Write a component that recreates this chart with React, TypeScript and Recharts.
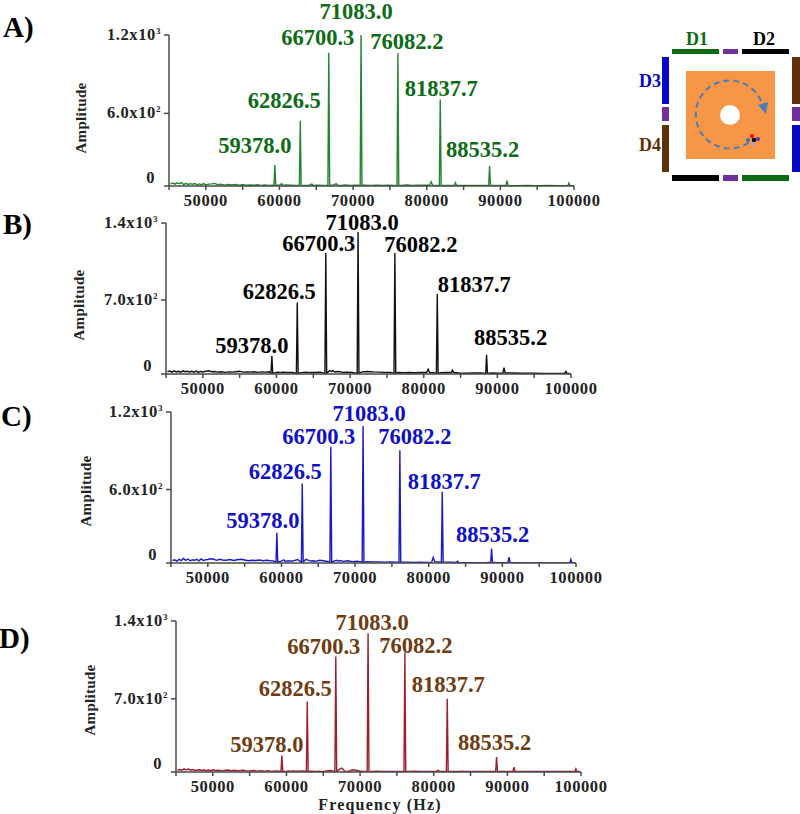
import React from 'react';
import { LineChart, Line, XAxis, YAxis } from 'recharts';

const SERIF = '"Liberation Serif", serif';
const AXIS_COLOR = '#4a4a4a';

const peakFreqs = [59378.0, 62826.5, 66700.3, 71083.0, 76082.2, 81837.7, 88535.2];
const peakLabels = ['59378.0', '62826.5', '66700.3', '71083.0', '76082.2', '81837.7', '88535.2'];

const peaksA = [204, 544, 1065, 1200, 1060, 707, 197];
const peaksB = [193, 676, 1128, 1319, 1128, 754, 202];
const peaksC = [265, 646, 930, 1092, 904, 582, 142];
const peaksD = [189, 676, 1080, 1289, 1117, 700, 176];

const noiseFreqs = [
  45200, 45500, 45800, 46100, 46400, 46700, 47000, 47300, 47600, 47900,
  48200, 48500, 48800, 49100, 49400, 49700, 50000, 50400, 50800, 51200,
  51600, 52000, 52500, 53000, 53500, 54000, 54500, 55000, 55500, 56000,
  56500, 57000, 57500, 58000, 58500, 59000, 60000, 60300, 60500, 60800,
  61500, 62200, 63300, 64000, 64400, 64600, 65200, 65900, 67200, 67500,
  67700, 67900, 68400, 69000, 69600, 70300, 71600, 72400, 73200, 74000,
  74800, 75500, 76500, 77300, 78000, 78800, 79600, 80400, 80600, 80800,
  81300, 82300, 83000, 83750, 83900, 84050, 84800, 85800, 86800, 87800,
  89200, 90000, 90750, 90900, 91050, 92000, 93500, 95000, 96500, 98000,
  99150, 99300, 99450, 99700, 99850, 100000,
];

const noiseA = [
  60, 66, 58, 68, 62, 70, 55, 64, 56, 62,
  58, 63, 52, 60, 54, 62, 52, 58, 60, 64,
  54, 58, 50, 56, 52, 55, 50, 54, 50, 52,
  50, 54, 49, 52, 48, 50, 50, 62, 48, 52,
  50, 48, 48, 50, 58, 48, 50, 49, 50, 54,
  62, 50, 48, 52, 48, 50, 50, 48, 50, 48,
  50, 48, 48, 52, 48, 50, 50, 50, 76, 50,
  48, 48, 48, 48, 70, 48, 48, 48, 48, 48,
  48, 48, 48, 84, 48, 46, 48, 46, 48, 46,
  46, 66, 46, 46, 44, 44,
];
const noiseB = [
  48, 54, 44, 56, 46, 52, 44, 56, 48, 52,
  46, 52, 44, 54, 42, 50, 46, 52, 56, 48,
  50, 44, 48, 42, 46, 44, 48, 52, 44, 46,
  44, 48, 42, 46, 44, 48, 42, 44, 40, 44,
  42, 40, 40, 44, 40, 42, 40, 44, 56, 50,
  58, 46, 50, 42, 44, 40, 46, 50, 46, 44,
  42, 40, 40, 38, 40, 38, 40, 40, 70, 40,
  38, 38, 40, 40, 62, 40, 36, 34, 36, 36,
  36, 34, 36, 84, 36, 36, 34, 34, 32, 32,
  32, 50, 32, 32, 29, 27,
];
const noiseC = [
  50, 56, 46, 60, 50, 66, 52, 62, 48, 56,
  52, 60, 48, 62, 50, 56, 58, 64, 60, 52,
  60, 54, 52, 58, 50, 56, 60, 54, 48, 52,
  50, 54, 48, 52, 48, 46, 46, 56, 44, 46,
  46, 58, 60, 46, 48, 44, 52, 46, 48, 52,
  46, 50, 44, 48, 42, 44, 42, 40, 40, 38,
  40, 38, 38, 38, 36, 38, 36, 38, 74, 42,
  40, 38, 38, 36, 44, 36, 34, 34, 34, 34,
  34, 34, 34, 76, 36, 34, 32, 32, 32, 32,
  32, 58, 34, 32, 31, 31,
];
const noiseD = [
  60, 64, 58, 70, 62, 68, 58, 64, 56, 60,
  62, 56, 62, 54, 60, 54, 62, 56, 58, 52,
  56, 60, 54, 58, 52, 58, 54, 52, 56, 50,
  54, 50, 54, 48, 52, 50, 48, 52, 48, 52,
  50, 52, 50, 48, 50, 48, 50, 56, 66, 78,
  66, 50, 48, 62, 56, 48, 48, 50, 48, 48,
  48, 46, 46, 50, 46, 48, 48, 48, 58, 46,
  46, 46, 48, 46, 50, 46, 46, 46, 46, 46,
  46, 46, 46, 86, 48, 46, 46, 46, 46, 46,
  46, 70, 46, 46, 42, 42,
];

const xTicks = [45000, 50000, 55000, 60000, 65000, 70000, 75000, 80000, 85000, 90000, 95000, 100000];

// the drawn baseline sits a little above true zero, it is labelled 0 anyway
const floorA = 44;
const floorB = 27;
const floorC = 31;
const floorD = 42;

// label offset from each peak tip, px: [dx, dy]
const offsetsA = [[-20, -12], [-16, -13], [-11, -8], [-5, -16], [9, -4], [1, -3], [-7, -9]];
const offsetsB = [[-20, -3], [-18, -4], [-7, -2], [4, -2], [26, -1], [37, -2], [24, -10]];
const offsetsC = [[-14, -5], [-17, -5], [-12, -3], [6, -5], [15, -6], [2, -3], [1, -7]];
const offsetsD = [[-15, -4], [-12, -6], [-12, -3], [4, -3], [11, 1], [1, -7], [-2, -7]];

function buildRows(peaks: number[], noise: number[], floor: number) {
  const rows = noiseFreqs.map((f, i) => ({ f, amp: noise[i], peak: -1 }));
  peakFreqs.forEach((f, i) => {
    rows.push({ f: f - 120, amp: floor + 6, peak: -1 });
    rows.push({ f, amp: peaks[i], peak: i });
    rows.push({ f: f + 120, amp: floor + 6, peak: -1 });
  });
  return rows.sort((a, b) => a.f - b.f);
}

const panels = [
  {
    id: 'A', left: 169, right: 574, top: 35, bottom: 186, min: floorA, max: 1200,
    rows: buildRows(peaksA, noiseA, floorA), offsets: offsetsA,
    line: '#23862f', text: '#0d6b16',
    yTicks: [floorA, 600, 1200], yLabels: [['0', ''], ['6.0x10', '2'], ['1.2x10', '3']],
  },
  {
    id: 'B', left: 166, right: 571, top: 223, bottom: 374, min: floorB, max: 1400,
    rows: buildRows(peaksB, noiseB, floorB), offsets: offsetsB,
    line: '#111111', text: '#000000',
    yTicks: [floorB, 700, 1400], yLabels: [['0', ''], ['7.0x10', '2'], ['1.4x10', '3']],
  },
  {
    id: 'C', left: 171, right: 576, top: 412, bottom: 563, min: floorC, max: 1200,
    rows: buildRows(peaksC, noiseC, floorC), offsets: offsetsC,
    line: '#1a1ac4', text: '#0f10c8',
    yTicks: [floorC, 600, 1200], yLabels: [['0', ''], ['6.0x10', '2'], ['1.2x10', '3']],
  },
  {
    id: 'D', left: 176, right: 581, top: 621, bottom: 772, min: floorD, max: 1400,
    rows: buildRows(peaksD, noiseD, floorD), offsets: offsetsD,
    line: '#9c1f2b', text: '#6e3c10',
    yTicks: [floorD, 700, 1400], yLabels: [['0', ''], ['7.0x10', '2'], ['1.4x10', '3']],
  },
];

function XTick({ x, y, payload }: any) {
  if (payload.value % 10000 !== 0) return null;
  return (
    <text x={x} y={y + 14} textAnchor="middle" fontFamily={SERIF} fontWeight="bold" fontSize={16.5} letterSpacing={0.6} fill="#222">
      {payload.value}
    </text>
  );
}

function YTick({ x, y, index, labels }: any) {
  const [base, sup] = labels[index];
  // the 0 label floats above the axis in the original
  const isZero = index === 0;
  return (
    <text x={isZero ? x - 7 : x - 1} y={isZero ? y - 3 : y + 5} textAnchor="end" fontFamily={SERIF} fontWeight="bold" fontSize={16.5} letterSpacing={0.6} fill="#222">
      {base}
      {sup ? <tspan dy={-6} fontSize={9}>{sup}</tspan> : null}
    </text>
  );
}

function Panel({ p }: { p: (typeof panels)[number] }) {
  const renderPeakLabel = (props: any) => {
    const row = p.rows[props.index];
    if (!row || row.peak < 0) return null;
    const [dx, dy] = p.offsets[row.peak];
    return (
      <text key={row.peak} x={props.x + dx} y={props.y + dy} textAnchor="middle" fontFamily={SERIF} fontWeight="bold" fontSize={22.5} fill={p.text}>
        {peakLabels[row.peak]}
      </text>
    );
  };

  return (
    <div style={{ position: 'absolute', left: 0, top: 0 }}>
      <LineChart
        width={800}
        height={814}
        data={p.rows}
        margin={{ top: p.top, left: p.left - 60, right: 800 - p.right, bottom: 814 - p.bottom - 30 }}
      >
        <XAxis
          dataKey="f"
          type="number"
          domain={[45000, 100000]}
          ticks={xTicks}
          interval={0}
          height={30}
          tick={<XTick />}
          tickSize={4}
          stroke={AXIS_COLOR}
          strokeWidth={1.5}
          allowDataOverflow
        />
        <YAxis
          type="number"
          domain={[p.min, p.max]}
          ticks={p.yTicks}
          interval={0}
          width={60}
          tick={<YTick labels={p.yLabels} />}
          tickSize={5}
          stroke={AXIS_COLOR}
          strokeWidth={1.5}
          allowDataOverflow
        />
        <Line
          dataKey="amp"
          type="linear"
          stroke={p.line}
          strokeWidth={1.4}
          dot={false}
          isAnimationActive={false}
          label={renderPeakLabel}
        />
      </LineChart>
    </div>
  );
}

const GREEN = '#0a6b12';
const BLACK = '#000000';
const PURPLE = '#7030a0';
const BROWN = '#5e3208';
const BLUE = '#0707c8';

// electrode schematic at the top right, and the titles beside the plots
function Overlay() {
  const titleProps = { fontFamily: SERIF, fontWeight: 'bold', fontSize: 15, letterSpacing: 0.3, fill: '#222', textAnchor: 'middle' as const };
  const dLabel = { fontFamily: SERIF, fontWeight: 'bold', fontSize: 18, textAnchor: 'middle' as const };
  const letter = { fontFamily: SERIF, fontWeight: 'bold', fontSize: 29, fill: '#000' };
  return (
    <svg width={800} height={814} style={{ position: 'absolute', left: 0, top: 0, pointerEvents: 'none' }}>
      <text x={3} y={37} {...letter}>A)</text>
      <text x={3} y={234} {...letter}>B)</text>
      <text x={1} y={426} {...letter}>C)</text>
      <text x={-1} y={648} {...letter}>D)</text>

      <text transform="translate(86,118) rotate(-90)" {...titleProps}>Amplitude</text>
      <text transform="translate(84,305) rotate(-90)" {...titleProps}>Amplitude</text>
      <text transform="translate(91,491) rotate(-90)" {...titleProps}>Amplitude</text>
      <text transform="translate(95,700) rotate(-90)" {...titleProps}>Amplitude</text>
      <text x={380} y={810} {...titleProps} fontSize={16} letterSpacing={1.2}>Frequency (Hz)</text>

      <rect x={672} y={49} width={47} height={5} fill={GREEN} />
      <rect x={723} y={49} width={15} height={5} fill={PURPLE} />
      <rect x={742} y={49} width={47} height={5} fill={BLACK} />
      <rect x={672} y={175} width={47} height={6} fill={BLACK} />
      <rect x={723} y={175} width={15} height={6} fill={PURPLE} />
      <rect x={742} y={175} width={47} height={6} fill={GREEN} />
      <rect x={662} y={57} width={7} height={47} fill={BLUE} />
      <rect x={662} y={107} width={7} height={14} fill={PURPLE} />
      <rect x={662} y={125} width={7} height={47} fill={BROWN} />
      <rect x={792} y={57} width={8} height={47} fill={BROWN} />
      <rect x={792} y={107} width={8} height={14} fill={PURPLE} />
      <rect x={792} y={125} width={8} height={47} fill={BLUE} />

      <rect x={686} y={71} width={89} height={88} fill="#f79646" />
      <circle cx={730} cy={115} r={10} fill="#fff" />
      <path
        d="M 761 101 A 34 34 0 1 0 751 141"
        fill="none"
        stroke="#4a7ebb"
        strokeWidth={2}
        strokeDasharray="6 4"
      />
      <path d="M 758 105 L 768 102 L 766 114 Z" fill="#4a7ebb" />
      <circle cx={752} cy={136} r={2} fill="#e01010" />
      <circle cx={748} cy={140} r={2} fill="#2e75b6" />
      <circle cx={758} cy={139} r={2} fill="#7030a0" />
      <circle cx={754} cy={140} r={2.2} fill="#000" />
      <circle cx={753} cy={144} r={2} fill="#a6a6c8" />

      <text x={697} y={45} {...dLabel} fill={GREEN}>D1</text>
      <text x={764} y={45} {...dLabel} fill={BLACK}>D2</text>
      <text x={650} y={87} {...dLabel} fill={BLUE}>D3</text>
      <text x={650} y={151} {...dLabel} fill={BROWN}>D4</text>
    </svg>
  );
}

export default function App() {
  return (
    <div style={{ position: 'absolute', left: 0, top: 0, width: 800, height: 814, background: '#fff', overflow: 'hidden' }}>
      {panels.map((p) => (
        <Panel key={p.id} p={p} />
      ))}
      <Overlay />
    </div>
  );
}
